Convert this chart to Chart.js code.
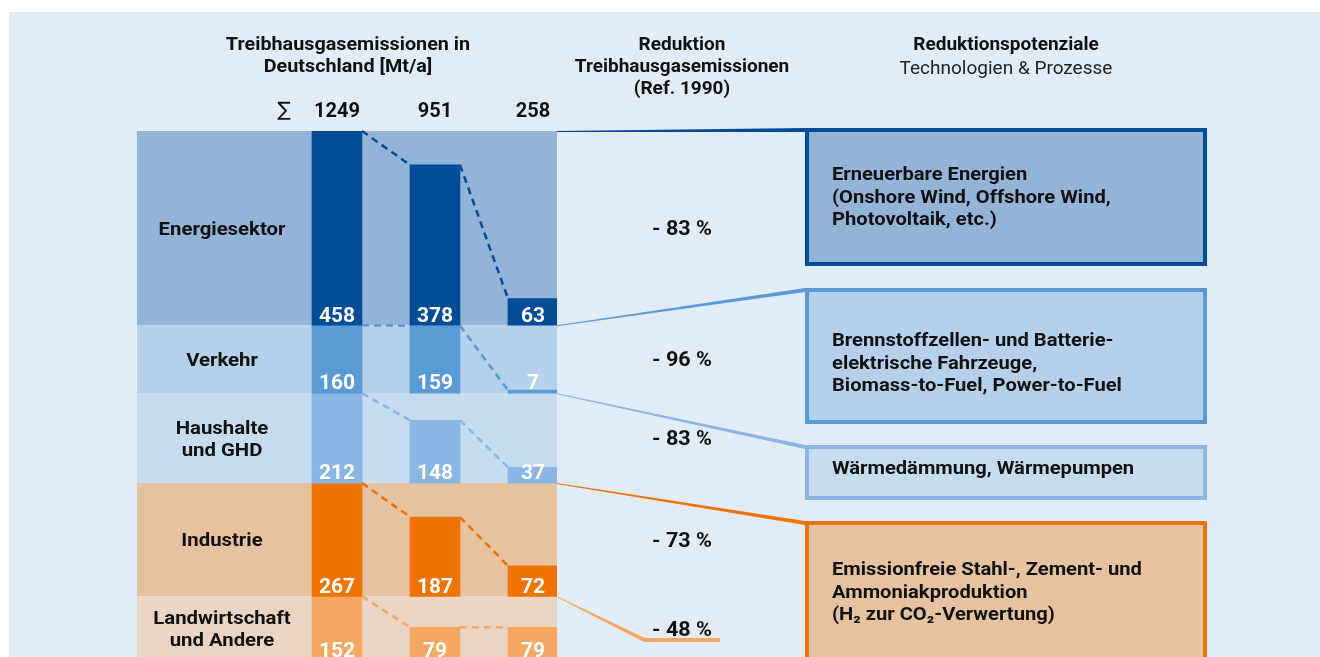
<!DOCTYPE html>
<html>
<head>
<meta charset="utf-8">
<script src="https://cdn.jsdelivr.net/npm/chart.js@4.4.1/dist/chart.umd.min.js"></script>
<style>
  html, body { margin: 0; padding: 0; background: #fff; overflow: hidden; }
  #wrap { width: 1320px; height: 657px; }
</style>
</head>
<body>
<div id="wrap"><canvas id="c"></canvas></div>
<script>
// Daten (Mt/a) – Spalten: Referenz 1990, heute, Ziel
const sectors = ['Energiesektor', 'Verkehr', 'Haushalte\nund GHD', 'Industrie', 'Landwirtschaft\nund Andere'];
const sums = [1249, 951, 258];
const energie = [458, 378, 63];
const verkehr = [160, 159, 7];
const haushalte = [212, 148, 37];
const industrie = [267, 187, 72];
const landwirtschaft = [152, 79, 79];
const reduktion = ['- 83 %', '- 96 %', '- 83 %', '- 73 %', '- 48 %'];
const massnahmen = [
  ['Erneuerbare Energien', '(Onshore Wind, Offshore Wind,', 'Photovoltaik, etc.)'],
  ['Brennstoffzellen- und Batterie-', 'elektrische Fahrzeuge,', 'Biomass-to-Fuel, Power-to-Fuel'],
  ['Wärmedämmung, Wärmepumpen'],
  ['Emissionfreie Stahl-, Zement- und', 'Ammoniakproduktion', '(H₂ zur CO₂-Verwertung)'],
  []
];

const series = [energie, verkehr, haushalte, industrie, landwirtschaft];
const barColors = ['#004c97', '#5b9bd5', '#89b6e2', '#ef7300', '#f4a862'];
const bandColors = ['#93b3d7', '#b4d0ea', '#c4dbf0', '#e6c2a0', '#ead5c5'];

// Bänder: Höhe = Wert 1990, von oben nach unten gestapelt
const bandEnd = [];
series.reduce((acc, s, i) => { bandEnd[i] = acc + s[0]; return bandEnd[i]; }, 0);
const bandStart = bandEnd.map((e, i) => e - series[i][0]);

const FONT = 'Roboto, "Open Sans", sans-serif';

function txt(ctx, s, x, y, font, color, align, sx) {
  ctx.save();
  ctx.font = font;
  ctx.fillStyle = color;
  ctx.textAlign = align || 'center';
  ctx.textBaseline = 'middle';
  ctx.translate(x, y);
  ctx.scale(sx || 1, 1);
  ctx.fillText(s, 0, 0);
  ctx.restore();
}

const bgPlugin = {
  id: 'bg',
  beforeDraw(chart) {
    const ctx = chart.ctx;
    ctx.save();
    ctx.fillStyle = '#e2ecf8';
    ctx.fillRect(9, 12, chart.width - 9, chart.height - 12);
    ctx.restore();
  },
  beforeDatasetsDraw(chart) {
    const ctx = chart.ctx, a = chart.chartArea, y = chart.scales.y;
    ctx.save();
    series.forEach((s, i) => {
      const t = y.getPixelForValue(bandStart[i]);
      const b = y.getPixelForValue(bandEnd[i]);
      ctx.fillStyle = bandColors[i];
      ctx.fillRect(a.left, t, a.right - a.left, b - t);
    });
    ctx.restore();
  }
};

const deko = {
  id: 'deko',
  afterDatasetsDraw(chart) {
    const ctx = chart.ctx, x = chart.scales.x, y = chart.scales.y;
    const half = 25;
    ctx.save();

    // gestrichelte Verbindungen zwischen den Balken
    series.forEach((s, i) => {
      ctx.strokeStyle = barColors[i];
      ctx.lineWidth = 2.5;
      ctx.setLineDash([7, 5]);
      for (let j = 0; j < s.length - 1; j++) {
        ctx.beginPath();
        ctx.moveTo(x.getPixelForValue(j) + half, y.getPixelForValue(bandEnd[i] - s[j]));
        ctx.lineTo(x.getPixelForValue(j + 1) - half, y.getPixelForValue(bandEnd[i] - s[j + 1]));
        ctx.stroke();
      }
    });
    ctx.setLineDash([]);

    // Werte in den Balken
    series.forEach((s, i) => {
      const yb = y.getPixelForValue(bandEnd[i]) - 9;
      s.forEach((v, j) => txt(ctx, String(v), x.getPixelForValue(j), yb, 'bold 21px ' + FONT, '#fff'));
    });

    // Sektornamen und Reduktion
    series.forEach((s, i) => {
      const ym = (y.getPixelForValue(bandStart[i]) + y.getPixelForValue(bandEnd[i])) / 2 + 2;
      const lines = sectors[i].split('\n');
      lines.forEach((l, k) => txt(ctx, l, 222, ym + (k - (lines.length - 1) / 2) * 22, 'bold 19px ' + FONT, '#111', 'center', 1.07));
      txt(ctx, reduktion[i], 682, ym, 'bold 20px ' + FONT, '#111', 'center', 1.08);
    });
    ctx.restore();
  },
  afterDraw(chart) {
    const ctx = chart.ctx, a = chart.chartArea, y = chart.scales.y;
    ctx.save();
    const boxTop = [128, 288, 445, 521];
    const boxBottom = [266, 424, 500, 700];
    const textMid = [198, 364, 469, 593];
    const x0 = a.right, bx = 805, bw = 402;

    series.forEach((s, i) => {
      const ys = y.getPixelForValue(bandStart[i]);
      ctx.fillStyle = barColors[i];
      if (i < boxTop.length) {
        // Keil vom Band zur Box
        ctx.beginPath();
        ctx.moveTo(x0, ys);
        ctx.lineTo(bx, boxTop[i]);
        ctx.lineTo(bx, boxTop[i] + 4);
        ctx.lineTo(x0, ys + 1);
        ctx.closePath();
        ctx.fill();
        // Box
        ctx.fillStyle = bandColors[i];
        ctx.fillRect(bx, boxTop[i], bw, boxBottom[i] - boxTop[i]);
        ctx.strokeStyle = barColors[i];
        ctx.lineWidth = 4;
        ctx.strokeRect(bx + 2, boxTop[i] + 2, bw - 4, boxBottom[i] - boxTop[i] - 4);
        const lines = massnahmen[i];
        lines.forEach((l, k) => txt(ctx, l, 832, textMid[i] + (k - (lines.length - 1) / 2) * 22.5, 'bold 19px ' + FONT, '#111', 'left', 1.06));
      } else {
        ctx.beginPath();
        ctx.moveTo(x0, ys);
        ctx.lineTo(645, 638);
        ctx.lineTo(720, 638);
        ctx.lineTo(720, 642);
        ctx.lineTo(644, 642);
        ctx.lineTo(x0, ys + 1);
        ctx.closePath();
        ctx.fill();
      }
    });

    // Überschriften
    const hf = 'bold 19px ' + FONT;
    txt(ctx, 'Treibhausgasemissionen in', 348, 45, hf, '#111', 'center', 1.04);
    txt(ctx, 'Deutschland [Mt/a]', 348, 67, hf, '#111', 'center', 1.04);
    txt(ctx, 'Reduktion', 682, 45, hf, '#111', 'center', 1.0);
    txt(ctx, 'Treibhausgasemissionen', 682, 67, hf, '#111', 'center', 1.0);
    txt(ctx, '(Ref. 1990)', 682, 89, hf, '#111', 'center', 1.0);
    txt(ctx, 'Reduktionspotenziale', 1006, 45, hf, '#111', 'center', 1.0);
    txt(ctx, 'Technologien & Prozesse', 1006, 69, '19px ' + FONT, '#222', 'center', 1.0);
    txt(ctx, '∑', 284, 111, '20px "DejaVu Sans"', '#111');
    ctx.restore();
  }
};

const datasets = series.map((s, i) => ({
  label: sectors[i].replace('\n', ' '),
  data: s.map((v, j) => ({ x: j, y: [bandEnd[i] - v, bandEnd[i]] })),
  backgroundColor: barColors[i],
  borderWidth: 0,
  barThickness: 50,
  grouped: false
}));

new Chart(document.getElementById('c'), {
  type: 'bar',
  data: { datasets },
  plugins: [bgPlugin, deko],
  options: {
    responsive: true,
    maintainAspectRatio: false,
    animation: false,
    layout: { padding: { left: 137, right: 763, top: 0, bottom: 0 } },
    plugins: { legend: { display: false }, tooltip: { enabled: false } },
    scales: {
      x: {
        type: 'linear',
        position: 'top',
        offset: false,
        min: -200 / 98,
        max: 2 + 24 / 98,
        grid: { display: false, drawTicks: false, offset: false },
        border: { display: false },
        afterBuildTicks: (sc) => { sc.ticks = sums.map((_, j) => ({ value: j })); },
        afterFit: (sc) => { sc.height = 131; },
        ticks: {
          autoSkip: false,
          maxRotation: 0,
          padding: 7,
          color: '#111',
          font: { family: FONT, size: 20, weight: 'bold' },
          callback: (v, idx) => sums[idx]
        }
      },
      y: {
        type: 'linear',
        reverse: true,
        min: 0,
        max: 1240,
        display: false
      }
    }
  }
});
</script>
</body>
</html>
